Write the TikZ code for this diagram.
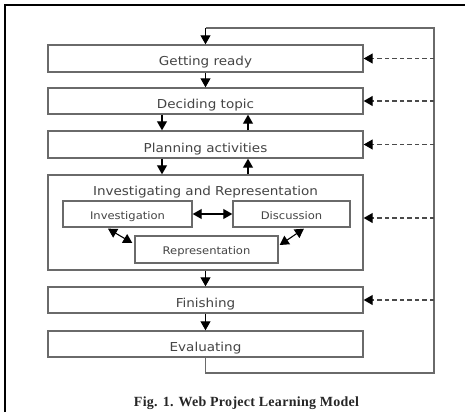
\documentclass[tikz,border=0pt]{standalone}
\usepackage{fontspec}
\usetikzlibrary{arrows.meta}
\newfontfamily\boxfont{DejaVu Sans}[FakeStretch=1.1]
\newfontfamily\capfont{Liberation Serif}[LetterSpace=2]
\definecolor{boxline}{HTML}{6A6A6A}
\definecolor{boxtext}{HTML}{444444}
\definecolor{dashcol}{HTML}{4A4A4A}
\tikzset{
  box/.style={draw=boxline, line width=1.4pt, inner sep=0pt, text=boxtext,
    font=\boxfont\fontsize{12.3}{14}\selectfont, text height=18pt, text depth=3pt},
  bigbox/.style={draw=boxline, line width=1.4pt, inner sep=0pt},
  inbox/.style={draw=boxline, line width=1.4pt, inner sep=0pt, text=boxtext,
    font=\boxfont\fontsize{10.5}{12}\selectfont, text height=14pt, text depth=4pt},
  tip/.tip={Triangle[length=9pt,width=10pt]},
  arr/.style={draw=black, line width=1.1pt, -tip},
  darr/.style={draw=black, line width=1.1pt, tip-tip},
  dasharr/.style={draw=dashcol, line width=1.2pt, dash pattern=on 4.5pt off 3pt,
    -{Triangle[length=9pt,width=10pt,color=black,fill=black]}},
  loopline/.style={draw=boxline, line width=1.4pt},
}
\begin{document}
\begin{tikzpicture}[x=1pt,y=-1pt]
\useasboundingbox (0,0) rectangle (465,412);
\fill[white] (0,0) rectangle (465,412);
% frame
\draw[line width=2.5pt, black] (5,412) -- (5,5) -- (465,5);

% boxes
\node[box, minimum width=315pt, minimum height=27pt] (gr) at (205.5,58.5) {Getting ready};
\node[box, minimum width=315pt, minimum height=26pt] (dt) at (205.5,101) {Deciding topic};
\node[box, minimum width=315pt, minimum height=27pt] (pa) at (205.5,144.5) {Planning activities};
\node[bigbox, minimum width=315pt, minimum height=95pt] (ir) at (205.5,222.5) {};
\node[anchor=base, text=boxtext, font=\boxfont\fontsize{12.3}{14}\selectfont] (irt) at (205.5,195) {Investigating and Representation};
\node[inbox, minimum width=129pt, minimum height=26pt] (inv) at (127.5,214) {Investigation};
\node[inbox, minimum width=117pt, minimum height=26pt] (dis) at (291.5,214) {Discussion};
\node[inbox, minimum width=143pt, minimum height=27pt] (rep) at (206.5,249.5) {Representation};
\node[box, minimum width=315pt, minimum height=26pt] (fi) at (205.5,300) {Finishing};
\node[box, minimum width=315pt, minimum height=26pt] (ev) at (205.5,344) {Evaluating};

% loop coordinates
\coordinate (lb) at (205.5,373);
\coordinate (rb) at (434,373);
\coordinate (rt) at (434,28);
\coordinate (lt) at (205.5,28);

\draw[loopline] (ev.south) -- (lb) -- (rb) -- (rt) -- (lt);
\draw[arr] (lt) -- (gr.north);

% main flow
\draw[arr] (gr.south) -- (dt.north);
\draw[arr] ([xshift=-43.5pt]dt.south) -- ([xshift=-43.5pt]pa.north);
\draw[arr] ([xshift=42.5pt]pa.north) -- ([xshift=42.5pt]dt.south);
\draw[arr] ([xshift=-43.5pt]pa.south) -- ([xshift=-43.5pt]ir.north);
\draw[arr] ([xshift=42.5pt]ir.north) -- ([xshift=42.5pt]pa.south);
\draw[arr] (ir.south) -- (fi.north);
\draw[arr] (fi.south) -- (ev.north);

% inner
\draw[darr] (inv.east) -- (dis.west);
\draw[darr] ([xshift=-19.5pt,yshift=-1pt]inv.south) -- ([xshift=-2pt,yshift=6.5pt]rep.west);
\draw[darr] ([xshift=12.5pt,yshift=-1pt]dis.south) -- ([xshift=1pt,yshift=4.5pt]rep.east);

% dashed feedback
\draw[dasharr] (rt |- gr.east) -- (gr.east);
\draw[dasharr] (rt |- dt.east) -- (dt.east);
\draw[dasharr] (rt |- pa.east) -- (pa.east);
\draw[dasharr] ([yshift=4.5pt]rt |- ir.east) -- ([yshift=4.5pt]ir.east);
\draw[dasharr] (rt |- fi.east) -- (fi.east);

% caption
\node[anchor=base, font=\capfont\bfseries\fontsize{14}{16}\selectfont, text=black!85] (cap) at (246.5,406) {Fig. 1. Web Project Learning Model};
\end{tikzpicture}
\end{document}
